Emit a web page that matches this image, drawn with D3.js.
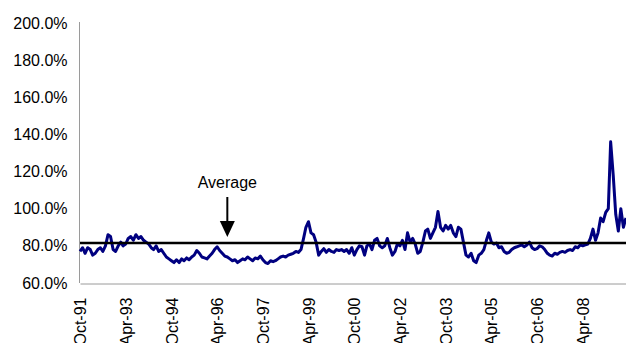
<!DOCTYPE html>
<html>
<head>
<meta charset="utf-8">
<script src="https://cdn.jsdelivr.net/npm/d3@7"></script>
<style>
  body { margin: 0; background: #fff; }
  text { font-family: "Liberation Sans", Arial, sans-serif; }
</style>
</head>
<body>
<div id="viz"></div>
<script>
const width = 626;
const height = 343;
const margin = {top: 23, right: 0, bottom: 60, left: 80};

// Monthly values (%), starting Oct-91
const firstMonth = '1991-10';
const ratioPct = [
  77, 79, 76,                                                   // 1991
  79, 78, 75, 76, 78, 79, 77, 80, 86, 85, 78, 77,               // 1992
  80, 82, 80, 81, 84, 85, 83, 86, 84, 85, 83, 82,               // 1993
  81, 79, 78, 80, 77, 78, 76, 74, 73, 72, 71, 72.5,             // 1994
  71, 73, 72, 73.5, 72.5, 74, 75, 77.5, 76, 74, 73.5, 73,       // 1995
  74.5, 76, 78, 79.5, 77.5, 76, 74.5, 74, 73, 72, 72.5, 71,     // 1996
  72, 73, 72.5, 74, 73, 72, 73.5, 73, 74.5, 72.5, 71, 70.5,     // 1997
  72, 71.5, 72, 73, 74, 74.5, 74, 75, 75.5, 76, 77, 76.5,       // 1998
  78, 84, 90, 93, 87, 86, 82, 75, 77, 78.5, 76.5, 78,           // 1999
  77, 76.5, 78, 77.5, 78, 77, 78, 76, 79, 75, 78, 80,           // 2000
  79.5, 75, 80, 81, 78, 83, 84, 80, 79, 80, 84, 79,             // 2001
  75, 77, 81, 80, 83, 78, 87, 82, 84, 81, 76, 77,               // 2002
  82, 88, 89, 84, 87, 90, 98.5, 90, 88, 91, 89, 91,             // 2003
  87, 85, 90, 89, 82, 75, 74, 76, 72, 71, 75, 76,               // 2004
  78, 83, 87, 82, 81, 81.5, 79, 79.5, 77, 76, 76.5, 78,         // 2005
  79, 79.5, 80, 80.5, 79.5, 80.5, 82, 79, 78, 78.5, 80, 79.5,   // 2006
  78, 76, 75, 74.5, 76, 75.5, 76.5, 77, 76.5, 77.5, 78, 77.5,   // 2007
  79.5, 79, 80.5, 80, 80.5, 81, 84, 89, 83, 87, 95, 93,         // 2008
  98, 100, 136, 118, 97, 88, 100, 90, 95                        // 2009
];
const averagePct = 81.5;

const xTickLabels = ['Oct-91', 'Apr-93', 'Oct-94', 'Apr-96', 'Oct-97', 'Apr-99',
                     'Oct-00', 'Apr-02', 'Oct-03', 'Apr-05', 'Oct-06', 'Apr-08'];
const yTicks = [60, 80, 100, 120, 140, 160, 180, 200];

const annotationLabel = 'Average';
const annotationMonth = '1996-08';

const parseMonth = d3.timeParse('%Y-%m');
const parseTick = d3.timeParse('%b-%y');
const start = parseMonth(firstMonth);
const data = ratioPct.map((v, i) => ({date: d3.timeMonth.offset(start, i), v: v}));

const svg = d3.select('#viz')
  .append('svg')
    .attr('width', width)
    .attr('height', height)
    .attr('viewBox', [0, 0, width, height]);

const xScale = d3.scaleTime()
  .domain(d3.extent(data, d => d.date))
  .range([margin.left, width - margin.right]);

const yScale = d3.scaleLinear()
  .domain([60, 200])
  .range([height - margin.bottom, margin.top]);

const fmt = d => d3.format('.1f')(d) + '%';

// y axis
const yAxis = svg.append('g')
  .attr('transform', `translate(${margin.left - 0.5}, 0)`)
  .call(d3.axisLeft(yScale).tickValues(yTicks).tickFormat(fmt).tickSize(0).tickPadding(12));
yAxis.select('.domain').attr('stroke', '#9a9a9a').attr('d', `M0,${yScale(200) - 1}V${yScale(60)}`);
yAxis.selectAll('text')
  .attr('font-size', 16)
  .attr('font-family', '"Liberation Sans", Arial, sans-serif')
  .attr('fill', '#000');

// x axis
const xAxis = svg.append('g')
  .attr('transform', `translate(0, ${yScale(60) + 0.5})`)
  .call(d3.axisBottom(xScale)
    .tickValues(xTickLabels.map(parseTick))
    .tickFormat(d3.timeFormat('%b-%y'))
    .tickSize(0));
xAxis.select('.domain').attr('stroke', '#9a9a9a');
xAxis.selectAll('text')
  .attr('font-size', 16)
  .attr('font-family', '"Liberation Sans", Arial, sans-serif')
  .attr('fill', '#000')
  .attr('text-anchor', 'end')
  .attr('transform', 'translate(0, 14) rotate(-90)')
  .attr('x', 0)
  .attr('y', 0)
  .attr('dy', '0.35em');

// series
const line = d3.line()
  .x(d => xScale(d.date))
  .y(d => yScale(d.v));

svg.append('path')
  .datum(data)
  .attr('d', line)
  .attr('fill', 'none')
  .attr('stroke', '#000080')
  .attr('stroke-width', 3)
  .attr('stroke-linejoin', 'round');

// average line
svg.append('line')
  .attr('x1', xScale.range()[0])
  .attr('x2', xScale.range()[1])
  .attr('y1', yScale(averagePct))
  .attr('y2', yScale(averagePct))
  .attr('stroke', '#000')
  .attr('stroke-width', 2.6);

// annotation
const ax = xScale(parseMonth(annotationMonth));
svg.append('text')
  .attr('x', ax)
  .attr('y', 188)
  .attr('text-anchor', 'middle')
  .attr('font-size', 16)
  .attr('fill', '#000')
  .text(annotationLabel);

svg.append('line')
  .attr('x1', ax)
  .attr('x2', ax)
  .attr('y1', 197)
  .attr('y2', 223)
  .attr('stroke', '#000')
  .attr('stroke-width', 2);

svg.append('path')
  .attr('d', `M${ax - 7.5},221 L${ax + 7.5},221 L${ax},237 Z`)
  .attr('fill', '#000');
</script>
</body>
</html>
